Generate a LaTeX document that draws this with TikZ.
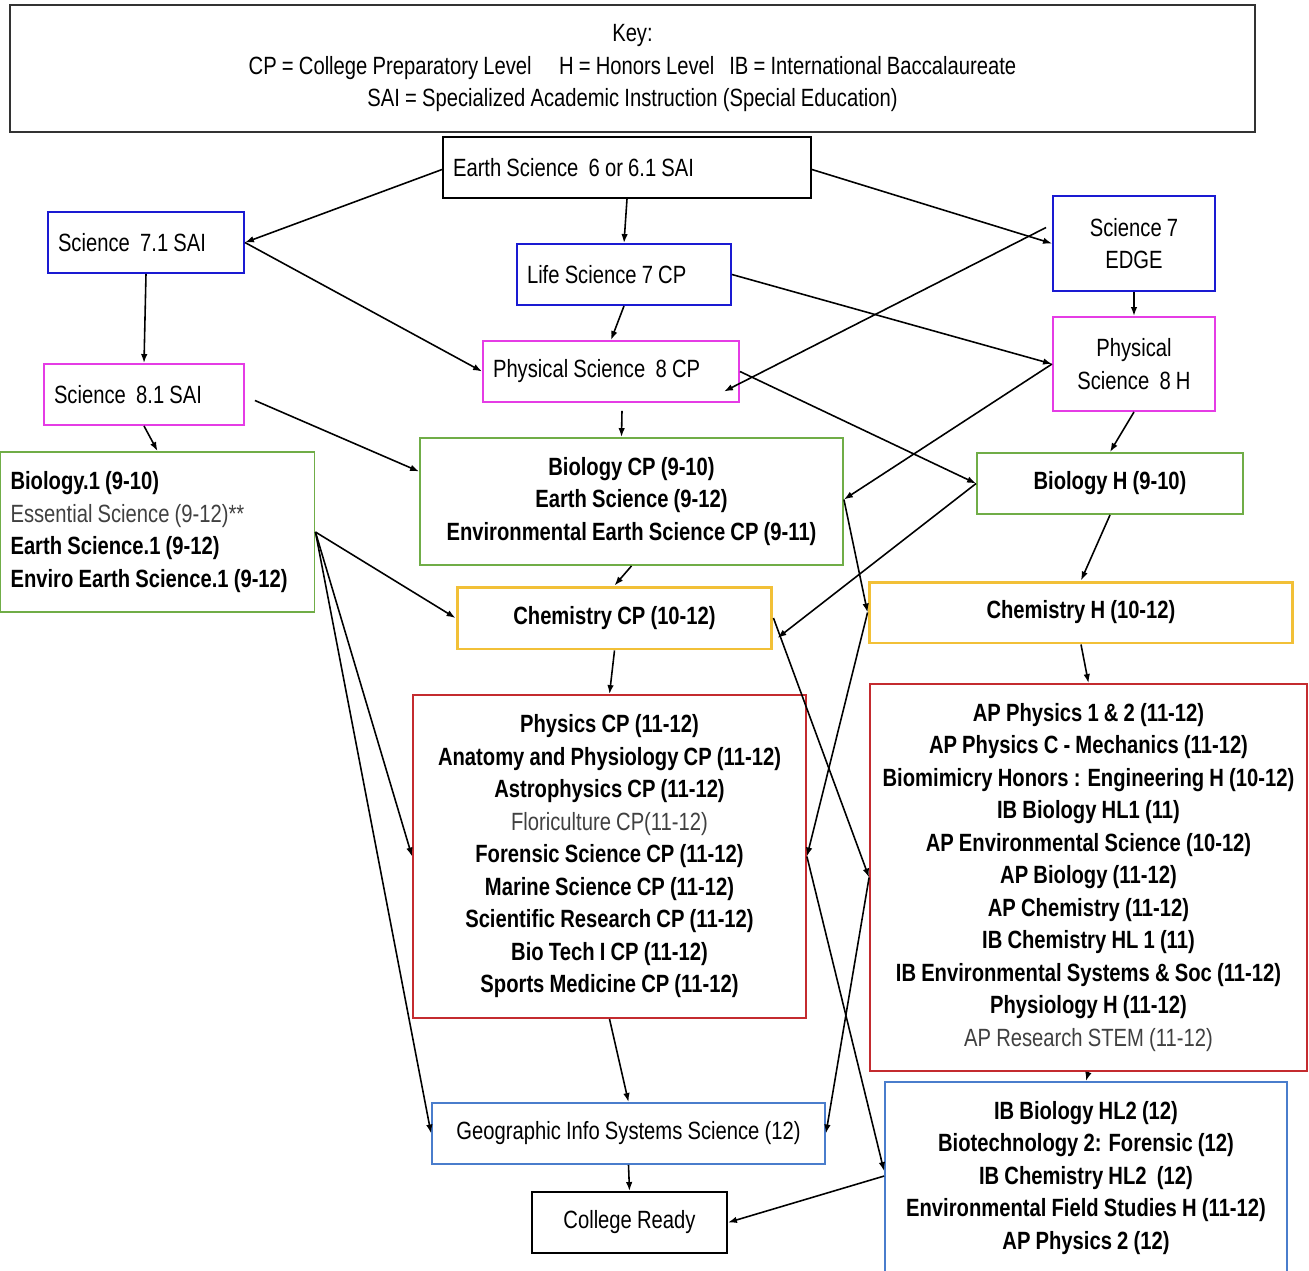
\documentclass[tikz,border=0pt]{standalone}
\usepackage{fontspec}
\setmainfont{Liberation Sans}[FakeStretch=0.81, WordSpace=0.92]
\usetikzlibrary{arrows.meta,calc}
\definecolor{levelblue}{HTML}{1A1AD2}
\definecolor{levelpink}{HTML}{E53CE5}
\definecolor{levelgreen}{HTML}{70AD47}
\definecolor{levelgold}{HTML}{F2C037}
\definecolor{levelred}{HTML}{C42B2F}
\definecolor{levelsky}{HTML}{4A7DCC}
\definecolor{keygray}{HTML}{333333}
\newcommand{\coursesize}{\fontsize{14.2pt}{18.5pt}\selectfont}

\begin{document}
\begin{tikzpicture}[x=0.02cm, y=-0.02cm,
    course/.style={draw, line width=1.1pt, font=\coursesize, inner sep=0pt, align=center},
    heavy/.style={course, font=\coursesize\bfseries},
    leftcourse/.style={course, align=flush left, inner xsep=0.2cm},
    flow/.style={-{Latex[length=1.8mm,width=1.3mm]}, line width=0.9pt}]
    \useasboundingbox (0,0) rectangle (1309,1271);

    % Key
    \node[course, draw=keygray, line width=1.4pt, minimum width=24.9cm, minimum height=2.54cm] (key) at (632.5,68.5) {Key:\\CP = College Preparatory Level\hspace{1.1em}H = Honors Level\hspace{0.6em}IB = International Baccalaureate\\SAI = Specialized Academic Instruction (Special Education)};

    % Middle school
    \node[leftcourse, text width=6.96cm, minimum height=1.22cm] (es6) at (627,167.5) {Earth Science\ \ 6 or 6.1 SAI};
    \node[leftcourse, draw=levelblue, text width=3.52cm, minimum height=1.22cm] (s71) at (146,242.5) {Science\ \ 7.1 SAI};
    \node[leftcourse, draw=levelblue, text width=3.88cm, minimum height=1.22cm] (ls7) at (624,274.5) {Life Science 7 CP};
    \node[course, draw=levelblue, minimum width=3.24cm, minimum height=1.9cm] (s7e) at (1134,243.5) {Science 7\\EDGE};
    \node[leftcourse, draw=levelpink, text width=3.6cm, minimum height=1.22cm] (s81) at (144,394.5) {Science\ \ 8.1 SAI};
    \node[leftcourse, draw=levelpink, text width=4.72cm, minimum height=1.22cm] (ps8) at (611,371.5) {Physical Science\ \ 8 CP};
    \node[course, draw=levelpink, minimum width=3.24cm, minimum height=1.88cm] (ps8h) at (1134,364) {Physical\\Science\ \ 8 H};

    % Grades 9-10
    \node[leftcourse, draw=levelgreen, text width=5.88cm, minimum height=3.2cm] (bio1) at (157.5,532) {\textbf{Biology.1 (9-10)}\\{\color{black!75}Essential Science (9-12)**}\\\textbf{Earth Science.1 (9-12)}\\\textbf{Enviro Earth Science.1 (9-12)}};
    \node[heavy, draw=levelgreen, minimum width=8.46cm, minimum height=2.54cm] (biocp) at (631.5,501.5) {Biology CP (9-10)\\Earth Science (9-12)\\Environmental Earth Science CP (9-11)};
    \node[heavy, draw=levelgreen, minimum width=5.32cm, minimum height=1.22cm] (bioh) at (1110,483.5) {Biology H (9-10)};

    % Chemistry
    \node[heavy, draw=levelgold, line width=1.7pt, minimum width=6.3cm, minimum height=1.24cm] (chcp) at (614.5,618) {Chemistry CP (10-12)};
    \node[heavy, draw=levelgold, line width=1.7pt, minimum width=8.48cm, minimum height=1.22cm] (chh) at (1081,612.5) {Chemistry H (10-12)};

    % Grades 11-12
    \node[heavy, draw=levelred, minimum width=7.86cm, minimum height=6.46cm] (phcp) at (609.5,856.5) {Physics CP (11-12)\\Anatomy and Physiology CP (11-12)\\Astrophysics CP (11-12)\\{\mdseries\color{black!75}Floriculture CP(11-12)}\\Forensic Science CP (11-12)\\Marine Science CP (11-12)\\Scientific Research CP (11-12)\\Bio Tech I CP (11-12)\\Sports Medicine CP (11-12)};
    \node[heavy, draw=levelred, minimum width=8.74cm, minimum height=7.74cm] (ap) at (1088.5,877.5) {AP Physics 1 \& 2 (11-12)\\AP Physics C - Mechanics (11-12)\\Biomimicry Honors : Engineering H (10-12)\\IB Biology HL1 (11)\\AP Environmental Science (10-12)\\AP Biology (11-12)\\AP Chemistry (11-12)\\IB Chemistry HL 1 (11)\\IB Environmental Systems \& Soc (11-12)\\Physiology H (11-12)\\{\mdseries\color{black!75}AP Research STEM (11-12)}};
    \node[heavy, draw=levelsky, minimum width=8.04cm, minimum height=3.84cm] (ib2) at (1086,1178) {IB Biology HL2 (12)\\Biotechnology 2: Forensic (12)\\IB Chemistry HL2\ \ (12)\\Environmental Field Studies H (11-12)\\AP Physics 2 (12)};

    % Final steps
    \node[course, draw=levelsky, minimum width=7.86cm, minimum height=1.22cm] (gis) at (628.5,1133.5) {Geographic Info Systems Science (12)};
    \node[course, minimum width=3.9cm, minimum height=1.22cm] (cr) at (629.5,1222.5) {College Ready};

    % Connectors
    \draw[flow] ($(es6.west)+(0,2)$) -- (s71.east);
    \draw[flow] (es6.south) -- (ls7.north);
    \draw[flow] ($(es6.east)+(0,2)$) -- (s7e.west);
    \draw[flow] (s71.south) -- (s81.north);
    \draw[flow] (s71.east) -- (ps8.west);
    \draw[flow] (ls7.south) -- (ps8.north);
    \draw[flow] (ls7.east) -- (ps8h.west);
    \draw[flow] ($(s7e.west)+(-6,-16)$) -- ($(ps8.east)+(-16,20)$);
    \draw[flow] (s7e.south) -- (ps8h.north);
    \draw[flow] (s81.south) -- (bio1.north);
    \draw[flow] ($(s81.east)+(10,6)$) -- ($(biocp.west)+(0,-30)$);
    \draw[flow] ($(ps8.south)+(11,8)$) -- ($(biocp.north)+(-10,0)$);
    \draw[flow] (ps8.east) -- (bioh.west);
    \draw[flow] (ps8h.west) -- ($(biocp.east)+(0,-2)$);
    \draw[flow] (ps8h.south) -- (bioh.north);
    \draw[flow] (bioh.west) -- ($(chcp.east)+(4,20)$);
    \draw[flow] (biocp.south) -- (chcp.north);
    \draw[flow] ($(biocp.east)+(0,-2)$) -- (chh.west);
    \draw[flow] (bio1.east) -- (chcp.west);
    \draw[flow] (bio1.east) -- (phcp.west);
    \draw[flow] (bio1.east) -- (gis.west);
    \draw[flow] (chcp.south) -- (phcp.north);
    \draw[flow] (bioh.south) -- (chh.north);
    \draw[flow] (chh.south) -- (ap.north);
    \draw[flow] (chcp.east) -- (ap.west);
    \draw[flow] (chh.west) -- (phcp.east);
    \draw[flow] (phcp.east) -- ($(ib2.north west)+(0,90)$);
    \draw[flow] (ap.west) -- (gis.east);
    \draw[flow] (phcp.south) -- (gis.north);
    \draw[flow] (gis.south) -- (cr.north);
    \draw[flow] ($(ib2.north west)+(0,95)$) -- (cr.east);
    \draw[flow] (ap.south) -- (ib2.north);
\end{tikzpicture}
\end{document}
